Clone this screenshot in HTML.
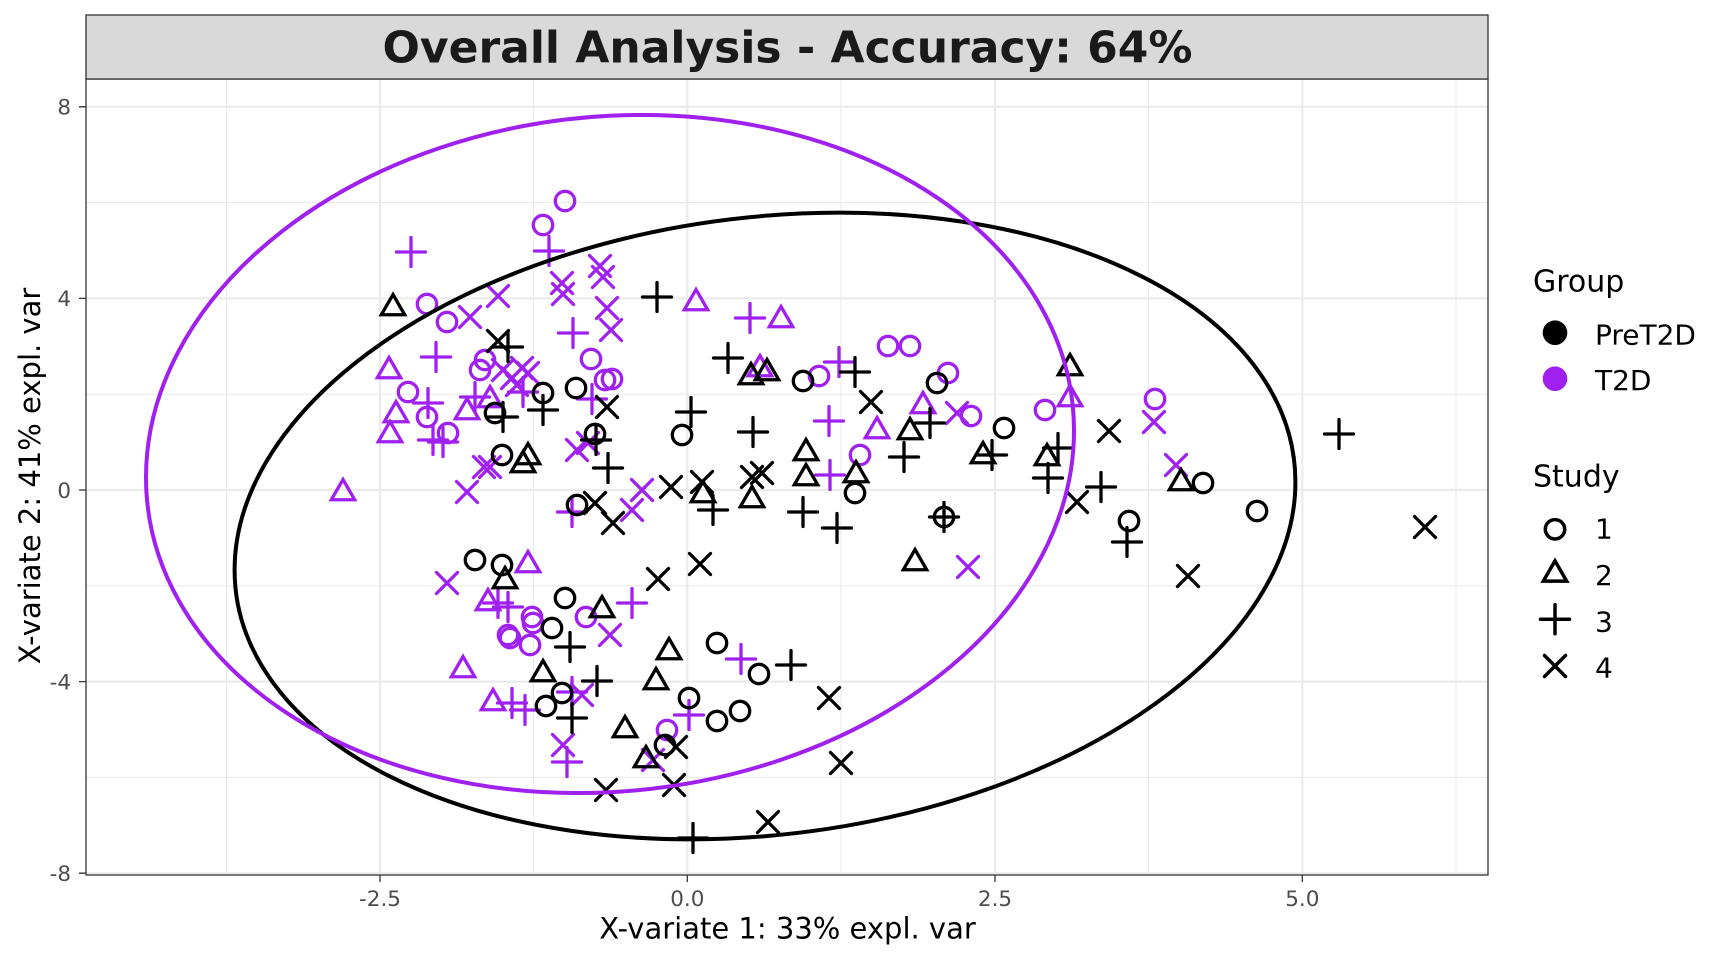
<!DOCTYPE html>
<html>
<head>
<meta charset="utf-8">
<style>
html,body{margin:0;padding:0;background:#fff;}
svg{display:block;}
text{font-family:"DejaVu Sans","Liberation Sans",sans-serif;}
</style>
</head>
<body>
<svg width="1728" height="960" viewBox="0 0 1728 960" xmlns="http://www.w3.org/2000/svg">
<defs>
<circle id="c" r="9.7"/>
<path id="t" d="M0 -13.5L11.7 6.75H-11.7Z"/>
<path id="p" d="M-14.5 0H14.5M0 -14.5V14.5"/>
<path id="x" d="M-10.5 -10.5L10.5 10.5M-10.5 10.5L10.5 -10.5"/>
<clipPath id="panel"><rect x="86" y="79" width="1402" height="796"/></clipPath>
</defs>
<rect width="1728" height="960" fill="#fff"/>

<!-- panel -->
<rect x="86" y="79" width="1402" height="796" fill="#fff"/>
<g stroke="#EBEBEB" fill="none">
  <g stroke-width="1.1">
    <path d="M226.6 79V875M533.6 79V875M841 79V875M1148.6 79V875M1456 79V875"/>
    <path d="M86 202.6H1488M86 394.2H1488M86 585.8H1488M86 777.4H1488"/>
  </g>
  <g stroke-width="2.2">
    <path d="M380 79V875M687.3 79V875M995 79V875M1302.3 79V875"/>
    <path d="M86 106.8H1488M86 298.4H1488M86 490H1488M86 681.6H1488M86 873.2H1488"/>
  </g>
</g>

<g clip-path="url(#panel)">
<!-- purple points -->
<g fill="none" stroke="#A020F0" stroke-width="3.3" stroke-linecap="round">
<use href="#c" x="565" y="201"/><use href="#c" x="543" y="225"/><use href="#c" x="427" y="304"/><use href="#c" x="447" y="322"/>
<use href="#c" x="485" y="360"/><use href="#c" x="480" y="370"/><use href="#c" x="591" y="359"/><use href="#c" x="408" y="392"/>
<use href="#c" x="427" y="417"/><use href="#c" x="448" y="433"/><use href="#c" x="605" y="380"/><use href="#c" x="612" y="379"/>
<use href="#c" x="819" y="376"/><use href="#c" x="888" y="346"/><use href="#c" x="910" y="346"/><use href="#c" x="948" y="373"/>
<use href="#c" x="971" y="416"/><use href="#c" x="1045" y="410"/><use href="#c" x="1155" y="399"/><use href="#c" x="860" y="455"/>
<use href="#c" x="532" y="617"/><use href="#c" x="533" y="623"/><use href="#c" x="586" y="617"/><use href="#c" x="508" y="635"/>
<use href="#c" x="510" y="638"/><use href="#c" x="530" y="645"/><use href="#c" x="667" y="730"/>

<use href="#t" x="389" y="371"/><use href="#t" x="396" y="415"/><use href="#t" x="390" y="435"/><use href="#t" x="467" y="412"/>
<use href="#t" x="490" y="400"/><use href="#t" x="343" y="493"/><use href="#t" x="696" y="303"/><use href="#t" x="781" y="320"/>
<use href="#t" x="760" y="369"/><use href="#t" x="877" y="431"/><use href="#t" x="923" y="406"/><use href="#t" x="1070" y="399"/>
<use href="#t" x="528" y="565"/><use href="#t" x="488" y="603"/><use href="#t" x="463" y="670"/><use href="#t" x="493" y="703"/>

<use href="#p" x="549" y="251"/><use href="#p" x="411" y="252"/><use href="#p" x="573" y="333"/><use href="#p" x="436" y="357"/>
<use href="#p" x="428" y="403"/><use href="#p" x="433" y="440"/><use href="#p" x="443" y="442"/><use href="#p" x="475" y="397"/>
<use href="#p" x="523" y="392"/><use href="#p" x="592" y="399"/><use href="#p" x="750" y="318"/><use href="#p" x="839" y="362"/>
<use href="#p" x="829" y="421"/><use href="#p" x="830" y="475"/><use href="#p" x="572" y="512"/><use href="#p" x="632" y="603"/>
<use href="#p" x="741" y="659"/><use href="#p" x="689" y="715"/><use href="#p" x="498" y="603"/><use href="#p" x="508" y="607"/>
<use href="#p" x="572" y="692"/><use href="#p" x="512" y="703"/><use href="#p" x="525" y="710"/><use href="#p" x="567" y="762"/>

<use href="#x" x="470" y="317"/><use href="#x" x="498" y="296"/><use href="#x" x="562" y="283"/><use href="#x" x="563" y="294"/>
<use href="#x" x="600" y="266"/><use href="#x" x="603" y="277"/><use href="#x" x="607" y="308"/><use href="#x" x="611" y="330"/>
<use href="#x" x="503" y="370"/><use href="#x" x="512" y="378"/><use href="#x" x="522" y="368"/><use href="#x" x="528" y="373"/>
<use href="#x" x="517" y="385"/><use href="#x" x="577" y="450"/><use href="#x" x="588" y="443"/><use href="#x" x="484" y="467"/>
<use href="#x" x="490" y="467"/><use href="#x" x="467" y="492"/><use href="#x" x="642" y="490"/><use href="#x" x="632" y="510"/>
<use href="#x" x="957" y="413"/><use href="#x" x="1154" y="422"/><use href="#x" x="1176" y="465"/><use href="#x" x="968" y="567"/>
<use href="#x" x="447" y="583"/><use href="#x" x="610" y="635"/><use href="#x" x="582" y="695"/><use href="#x" x="563" y="745"/>
<use href="#x" x="653" y="760"/>
</g>

<!-- black points -->
<g fill="none" stroke="#000" stroke-width="3.3" stroke-linecap="round">
<use href="#c" x="495" y="413"/><use href="#c" x="543" y="393"/><use href="#c" x="576" y="388"/><use href="#c" x="502" y="455"/>
<use href="#c" x="595" y="434"/><use href="#c" x="803" y="381"/><use href="#c" x="937" y="383"/><use href="#c" x="1004" y="428"/>
<use href="#c" x="682" y="435"/><use href="#c" x="855" y="493"/><use href="#c" x="944" y="517"/><use href="#c" x="1203" y="483"/>
<use href="#c" x="1257" y="511"/><use href="#c" x="1129" y="521"/><use href="#c" x="577" y="505"/><use href="#c" x="475" y="560"/>
<use href="#c" x="502" y="565"/><use href="#c" x="565" y="598"/><use href="#c" x="552" y="628"/><use href="#c" x="562" y="693"/>
<use href="#c" x="546" y="706"/><use href="#c" x="717" y="643"/><use href="#c" x="759" y="674"/><use href="#c" x="689" y="698"/>
<use href="#c" x="717" y="721"/><use href="#c" x="740" y="711"/><use href="#c" x="665" y="745"/>

<use href="#t" x="393" y="308"/><use href="#t" x="523" y="465"/><use href="#t" x="528" y="457"/><use href="#t" x="751" y="377"/>
<use href="#t" x="767" y="373"/><use href="#t" x="910" y="432"/><use href="#t" x="983" y="456"/><use href="#t" x="1047" y="458"/>
<use href="#t" x="806" y="453"/><use href="#t" x="806" y="478"/><use href="#t" x="856" y="475"/><use href="#t" x="703" y="495"/>
<use href="#t" x="752" y="500"/><use href="#t" x="915" y="563"/><use href="#t" x="1070" y="368"/><use href="#t" x="1181" y="483"/>
<use href="#t" x="505" y="581"/><use href="#t" x="602" y="610"/><use href="#t" x="543" y="674"/><use href="#t" x="669" y="652"/>
<use href="#t" x="656" y="682"/><use href="#t" x="625" y="730"/><use href="#t" x="646" y="760"/>

<use href="#p" x="508" y="347"/><use href="#p" x="503" y="417"/><use href="#p" x="543" y="410"/><use href="#p" x="657" y="297"/>
<use href="#p" x="728" y="358"/><use href="#p" x="855" y="372"/><use href="#p" x="691" y="412"/><use href="#p" x="753" y="432"/>
<use href="#p" x="930" y="423"/><use href="#p" x="904" y="457"/><use href="#p" x="992" y="455"/><use href="#p" x="1058" y="448"/>
<use href="#p" x="1048" y="478"/><use href="#p" x="608" y="468"/><use href="#p" x="713" y="510"/><use href="#p" x="803" y="512"/>
<use href="#p" x="944" y="517"/><use href="#p" x="837" y="528"/><use href="#p" x="1339" y="434"/><use href="#p" x="1101" y="487"/>
<use href="#p" x="1127" y="542"/><use href="#p" x="791" y="665"/><use href="#p" x="570" y="647"/><use href="#p" x="597" y="681"/>
<use href="#p" x="572" y="718"/><use href="#p" x="693" y="838"/><use href="#p" x="596" y="440"/>

<use href="#x" x="498" y="341"/><use href="#x" x="607" y="407"/><use href="#x" x="871" y="402"/><use href="#x" x="595" y="503"/>
<use href="#x" x="613" y="523"/><use href="#x" x="671" y="487"/><use href="#x" x="702" y="482"/><use href="#x" x="752" y="477"/>
<use href="#x" x="762" y="473"/><use href="#x" x="1109" y="431"/><use href="#x" x="1077" y="502"/><use href="#x" x="1188" y="576"/>
<use href="#x" x="1425" y="527"/><use href="#x" x="700" y="564"/><use href="#x" x="658" y="579"/><use href="#x" x="829" y="698"/>
<use href="#x" x="676" y="747"/><use href="#x" x="841" y="763"/><use href="#x" x="674" y="785"/><use href="#x" x="606" y="790"/>
<use href="#x" x="768" y="822"/>
</g>

<!-- ellipses -->
<circle cx="0" cy="0" r="1" fill="none" stroke="#000" stroke-width="4" vector-effect="non-scaling-stroke" transform="matrix(530.4,-44,0,310.2,765,526)"/>
<circle cx="0" cy="0" r="1" fill="none" stroke="#A020F0" stroke-width="4" vector-effect="non-scaling-stroke" transform="matrix(464,-23.4,0,338.2,610,454)"/>
</g>

<!-- panel border -->
<rect x="86" y="79" width="1402" height="796" fill="none" stroke="#333333" stroke-width="1.3"/>

<!-- strip -->
<rect x="86" y="15" width="1402" height="64" fill="#D9D9D9" stroke="#333333" stroke-width="1.3"/>
<text x="787.5" y="62.5" text-anchor="middle" font-size="44" font-weight="bold" fill="#1A1A1A">Overall Analysis - Accuracy: 64%</text>

<!-- ticks -->
<g stroke="#333333" stroke-width="1.3">
  <path d="M380 875V882M687.3 875V882M995 875V882M1302.3 875V882"/>
  <path d="M79 106.8H86M79 298.4H86M79 490H86M79 681.6H86M79 873.2H86"/>
</g>
<g font-size="21.5" fill="#4D4D4D">
  <text x="380" y="906" text-anchor="middle">-2.5</text>
  <text x="687.3" y="906" text-anchor="middle">0.0</text>
  <text x="995" y="906" text-anchor="middle">2.5</text>
  <text x="1302.3" y="906" text-anchor="middle">5.0</text>
  <text x="71" y="114.6" text-anchor="end">8</text>
  <text x="71" y="306.2" text-anchor="end">4</text>
  <text x="71" y="497.8" text-anchor="end">0</text>
  <text x="71" y="689.4" text-anchor="end">-4</text>
  <text x="71" y="881" text-anchor="end">-8</text>
</g>

<!-- axis titles -->
<text x="787.5" y="938.3" text-anchor="middle" font-size="29" fill="#000">X-variate 1: 33% expl. var</text>
<text transform="translate(40,476) rotate(-90)" text-anchor="middle" font-size="29" fill="#000">X-variate 2: 41% expl. var</text>

<!-- legend -->
<g fill="#000">
  <text x="1533" y="291.7" font-size="30">Group</text>
  <circle cx="1555" cy="332.7" r="12.3" fill="#000"/>
  <circle cx="1555" cy="378.7" r="12.3" fill="#A020F0"/>
  <text x="1595" y="344.3" font-size="28">PreT2D</text>
  <text x="1595" y="390" font-size="28">T2D</text>
  <text x="1533" y="486.7" font-size="30">Study</text>
  <text x="1595" y="538.3" font-size="28">1</text>
  <text x="1595" y="585" font-size="28">2</text>
  <text x="1595" y="631.7" font-size="28">3</text>
  <text x="1595" y="677.7" font-size="28">4</text>
</g>
<g fill="none" stroke="#000" stroke-width="3.5" stroke-linecap="round">
  <use href="#c" x="1555" y="529.3"/>
  <use href="#t" x="1555" y="574.4"/>
  <use href="#p" x="1555" y="619.3"/>
  <use href="#x" x="1555" y="666"/>
</g>
</svg>
</body>
</html>
